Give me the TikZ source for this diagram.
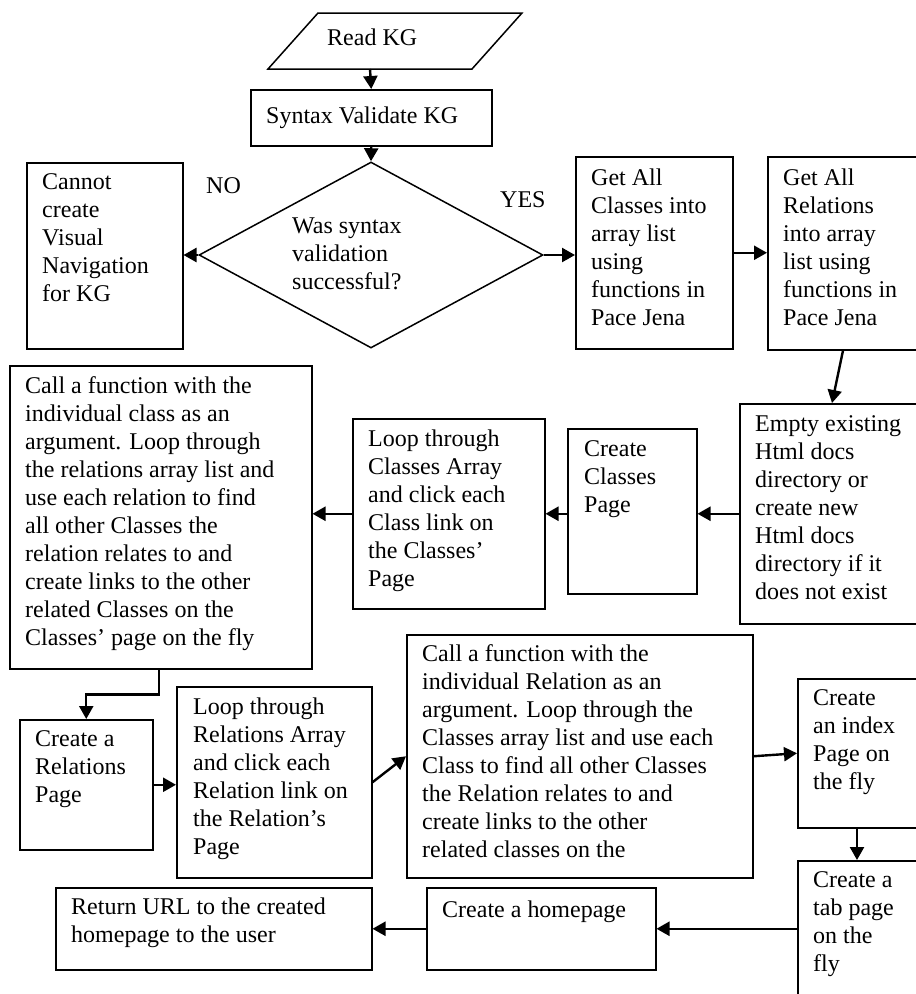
\documentclass[tikz,border=0pt]{standalone}
\usepackage{fontspec}
\setmainfont{Liberation Serif}
\usetikzlibrary{shapes.geometric,arrows.meta,calc}
\begin{document}
\begin{tikzpicture}[x=1pt,y=-1pt,
  box/.style={draw, line width=1.5pt, rectangle, inner sep=0pt, anchor=north west},
  txt/.style={anchor=north west, inner sep=0pt, align=left,
              font=\fontsize{24}{28}\selectfont, execute at begin node=\strut},
  conn/.style={line width=2.4pt, -{Triangle[length=13pt,width=14pt]}}]

% canvas
\fill[white] (0,0) rectangle (916,994);
\useasboundingbox (0,0) rectangle (916,994);
\clip (0,0) rectangle (916,994);

% input parallelogram
\draw[line width=1.5pt, line join=miter] (318,13) -- (522,13) -- (472,69) -- (268,69) -- cycle;
\coordinate (rkb) at (370,69);

% shapes
\node[box, minimum width=241pt, minimum height=56pt] (syn) at (250,89) {};
\node[diamond, draw, line width=1.5pt, minimum width=344pt, minimum height=186pt, inner sep=0pt] (dec) at (371,255) {};
\node[box, minimum width=156pt, minimum height=186pt] (cant) at (26,162) {};
\node[box, minimum width=157pt, minimum height=192pt] (gac) at (575,156) {};
\node[box, minimum width=180pt, minimum height=193pt] (gar) at (767,156) {};
\node[box, minimum width=200pt, minimum height=220pt] (emp) at (739,403) {};
\node[box, minimum width=129pt, minimum height=165pt] (ccp) at (567,428) {};
\node[box, minimum width=192pt, minimum height=190pt] (lcl) at (352,418) {};
\node[box, minimum width=302pt, minimum height=303pt] (cfc) at (9,365) {};
\node[box, minimum width=133pt, minimum height=130pt] (crp) at (19,719) {};
\node[box, minimum width=195pt, minimum height=191pt] (lrl) at (176,686) {};
\node[box, minimum width=346pt, minimum height=243pt] (cfr) at (406,634) {};
\node[box, minimum width=150pt, minimum height=149pt] (cix) at (797,678) {};
\node[box, minimum width=150pt, minimum height=160pt] (tab) at (797,860) {};
\node[box, minimum width=229pt, minimum height=82pt] (hom) at (426,887) {};
\node[box, minimum width=316pt, minimum height=82pt] (ret) at (55,887) {};

% texts
\node[txt] (trk) at (327,25.4) {Read KG};
\node[txt] (tsyn) at (266,103.4) {Syntax Validate KG};
\node[txt] (tno) at (206,173.4) {NO};
\node[txt] (tyes) at (500,187.4) {YES};
\node[txt] (tdec) at (292,217.4) {Was syntax\\validation\\successful?};
\node[txt] (tcant) at (42,173.4) {Cannot\\create\\Visual\\Navigation\\for KG};
\node[txt] (tgac) at (591,168.4) {Get All\\Classes into\\array list\\using\\functions in\\Pace Jena};
\node[txt] (tgar) at (783,168.4) {Get All\\Relations\\into array\\list using\\functions in\\Pace Jena};
\node[txt] (temp) at (755,415.4) {Empty existing\\Html docs\\directory or\\create new\\Html docs\\directory if it\\does not exist};
\node[txt] (tccp) at (584,440.4) {Create\\Classes\\Page};
\node[txt] (tlcl) at (368,429.4) {Loop through\\Classes Array\\and click each\\Class link on\\the Classes’\\Page};
\node[txt] (tcfc) at (25,376.4) {Call a function with the\\individual class as an\\argument. Loop through\\the relations array list and\\use each relation to find\\all other Classes the\\relation relates to and\\create links to the other\\related Classes on the\\Classes’ page on the fly};
\node[txt] (tcrp) at (35,730.4) {Create a\\Relations\\Page};
\node[txt] (tlrl) at (193,697.4) {Loop through\\Relations Array\\and click each\\Relation link on\\the Relation’s\\Page};
\node[txt] (tcfr) at (422,644.4) {Call a function with the\\individual Relation as an\\argument. Loop through the\\Classes array list and use each\\Class to find all other Classes\\the Relation relates to and\\create links to the other\\related classes on the};
\node[txt] (tcix) at (813,689.4) {Create\\an index\\Page on\\the fly};
\node[txt] (ttab) at (813,871.4) {Create a\\tab page\\on the\\fly};
\node[txt] (thom) at (442,897.4) {Create a homepage};
\node[txt] (tret) at (71,897.4) {Return URL to the created\\homepage to the user};

% connectors
\draw[conn] (rkb) -- (syn.north);
\draw[conn] (syn.south) -- (dec.north);
\draw[conn] (dec.west) -- (dec.west -| cant.east);
\draw[conn] (dec.east) -- (dec.east -| gac.west);
\draw[conn] (gac.east) -- (gac.east -| gar.west);
\draw[conn] ($(gar.south west)+(76,0)$) -- ($(emp.north west)+(93,0)$);
\draw[conn] (emp.west) -- (emp.west -| ccp.east);
\draw[conn] (lcl.east -| ccp.west) -- (lcl.east);
\draw[conn] (lcl.west) -- (lcl.west -| cfc.east);
\draw[conn] ($(cfc.south west)+(150,0)$) -- ++(0,25) -| (crp.north);
\draw[conn] (crp.east) -- (crp.east -| lrl.west);
\draw[conn] (lrl.east) -- (cfr.west);
\draw[conn] (cfr.east) -- (cix.west);
\draw[conn] ($(cix.south west)+(60,0)$) -- ($(tab.north west)+(60,0)$);
\draw[conn] (hom.east -| tab.west) -- (hom.east);
\draw[conn] (hom.west) -- (ret.east);
\end{tikzpicture}
\end{document}
